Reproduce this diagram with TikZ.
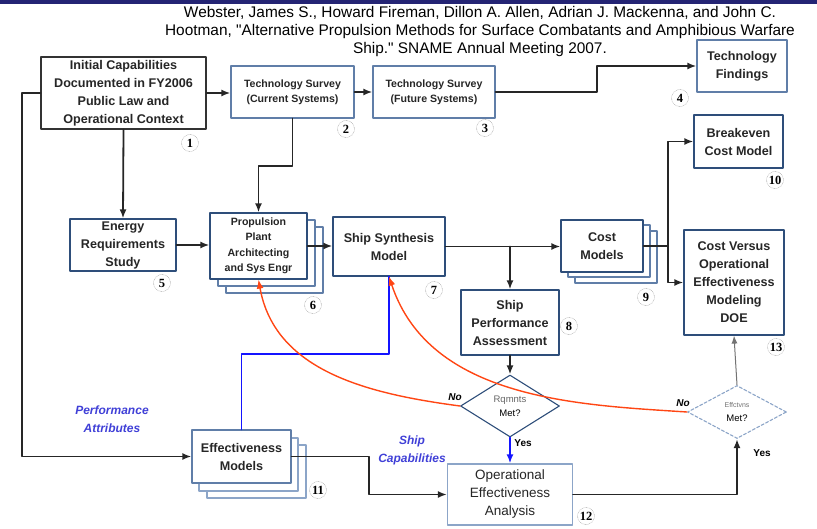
\documentclass[tikz,border=0pt]{standalone}
\usepackage{fontspec}
\setmainfont{Liberation Sans}
\newfontfamily\citefont{Liberation Sans}
\newfontfamily\numfont{Liberation Serif}
\usetikzlibrary{shapes.geometric,shadows,arrows.meta}

\definecolor{boxblue}{RGB}{46,78,122}
\definecolor{lightblue}{RGB}{96,126,168}
\definecolor{paleblue}{RGB}{140,165,200}
\definecolor{navybar}{RGB}{36,36,116}
\definecolor{attrblue}{RGB}{64,64,215}
\definecolor{loopred}{RGB}{255,70,20}
\definecolor{linkblue}{RGB}{20,20,255}

\begin{document}
\begin{tikzpicture}[>={Latex[length=9pt,width=7pt]}, line cap=round, line join=round, x=1pt, y=-1pt]

% --- Global TikZ Styles for Consistency ---
\tikzset{
    procbox/.style={
        draw=boxblue,
        line width=1.2pt,
        fill=white,
        text=black!85,
        align=center,
        inner sep=1pt,
        font=\fontsize{12.6}{18}\selectfont\bfseries
    },
    smallbox/.style={
        procbox,
        draw=lightblue,
        font=\fontsize{10.6}{15}\selectfont\bfseries
    },
    stackbox/.style n args={5}{
        procbox,
        copy shadow={shadow xshift=#3, shadow yshift=#4, draw=#5, line width=1.2pt},
        copy shadow={shadow xshift=#1, shadow yshift=#2, draw=#5, line width=1.2pt}
    },
    decision/.style={
        diamond,
        draw=boxblue,
        line width=1.1pt,
        fill=white,
        align=center,
        inner sep=0pt,
        font=\fontsize{9.5}{14}\selectfont
    },
    flow/.style={
        ->,
        line width=1.8pt,
        draw=black!85
    },
    flowline/.style={
        line width=1.8pt,
        draw=black!85
    },
    loopback/.style={
        ->,
        line width=1.4pt,
        draw=loopred
    },
    bluelink/.style={
        line width=1.8pt,
        draw=linkblue
    },
    stepnum/.style={
        circle,
        draw=black!45,
        densely dotted,
        thin,
        inner sep=0pt,
        minimum size=17pt,
        font=\numfont\fontsize{12.5}{12}\selectfont\bfseries
    },
    answer/.style={
        font=\fontsize{10}{12}\selectfont\bfseries\itshape
    },
    attrlabel/.style={
        text=attrblue,
        align=center,
        font=\fontsize{12}{18}\selectfont\bfseries\itshape
    }
}

\useasboundingbox (0,0) rectangle (817,529);
\fill[navybar] (0,0) rectangle (817,4);

% --- Reference ---
\node[font=\citefont\fontsize{15.4}{18}\selectfont, align=center] (cite) at (480,32)
    {Webster, James S., Howard Fireman, Dillon A. Allen, Adrian J. Mackenna, and John C.\\
     Hootman, "Alternative Propulsion Methods for Surface Combatants and Amphibious Warfare\\
     Ship." SNAME Annual Meeting 2007.};

% =========================================================================
% --- Upper row: capabilities and technology surveys ---
% =========================================================================
\node[procbox, draw=black!80, minimum width=165pt, minimum height=72pt] (init) at (123.5,93)
    {Initial Capabilities\\Documented in FY2006\\Public Law and\\Operational Context};
\node[smallbox, minimum width=123pt, minimum height=52pt] (survcur) at (292.5,92)
    {Technology Survey\\(Current Systems)};
\node[smallbox, minimum width=122pt, minimum height=52pt] (survfut) at (434,92)
    {Technology Survey\\(Future Systems)};
\node[procbox, draw=lightblue, minimum width=90pt, minimum height=52pt] (findings) at (742,66)
    {Technology\\Findings};
\node[procbox, minimum width=89pt, minimum height=53pt] (breakeven) at (738.5,141.5)
    {Breakeven\\Cost Model};

% =========================================================================
% --- Middle row: synthesis and cost ---
% =========================================================================
\node[procbox, minimum width=106pt, minimum height=52pt] (energy) at (123,245)
    {Energy\\Requirements\\Study};
\node[stackbox={8pt}{-7pt}{16pt}{-14pt}{lightblue}, font=\fontsize{10.6}{15.5}\selectfont\bfseries,
      minimum width=97pt, minimum height=66pt] (prop) at (258.5,246)
    {Propulsion\\Plant\\Architecting\\and Sys Engr};
\node[procbox, minimum width=112pt, minimum height=59pt] (synth) at (389,246.5)
    {Ship Synthesis\\Model};
\node[stackbox={7pt}{-5pt}{14pt}{-11pt}{lightblue}, minimum width=82pt, minimum height=52pt] (cost) at (602,246)
    {Cost\\Models};
\node[procbox, minimum width=100pt, minimum height=105pt] (costvs) at (734,282.5)
    {Cost Versus\\Operational\\Effectiveness\\Modeling\\DOE};
\node[procbox, minimum width=98pt, minimum height=65pt] (perf) at (510,322.5)
    {Ship\\Performance\\Assessment};

% =========================================================================
% --- Lower row: decisions and effectiveness ---
% =========================================================================
\node[decision, minimum width=99pt, minimum height=62pt] (rq) at (510,406)
    {\textcolor{black!60}{Rqmnts}\\Met?};
\node[decision, draw=paleblue, densely dashed, minimum width=99pt, minimum height=53pt] (ef) at (737,412)
    {\textcolor{black!55}{\fontsize{7}{9}\selectfont Effctvns}\\Met?};
\node[procbox, draw=paleblue, font=\fontsize{13.5}{18}\selectfont, minimum width=125pt, minimum height=61pt] (opeff) at (510,494.5)
    {Operational\\Effectiveness\\Analysis};
\node[stackbox={7pt}{-8pt}{15pt}{-15pt}{paleblue}, draw=lightblue, minimum width=99pt, minimum height=53pt] (effmod) at (241.5,456.5)
    {Effectiveness\\Models};

% --- Step numbers ---
\node[stepnum] (n1) at (190,143) {1};
\node[stepnum] (n2) at (346,129) {2};
\node[stepnum] (n3) at (485,128) {3};
\node[stepnum] (n4) at (680,98) {4};
\node[stepnum] (n5) at (162,283) {5};
\node[stepnum] (n6) at (313,305) {6};
\node[stepnum] (n7) at (434,290) {7};
\node[stepnum] (n8) at (569,326) {8};
\node[stepnum] (n9) at (646,297) {9};
\node[stepnum] (n10) at (775,180) {10};
\node[stepnum] (n11) at (318,490) {11};
\node[stepnum] (n12) at (586,516) {12};
\node[stepnum] (n13) at (776,347) {13};

% --- Labels ---
\node[answer] (no1) at (455,397) {No};
\node[answer] (no2) at (683,403) {No};
\node[font=\fontsize{10}{12}\selectfont\bfseries] (yes1) at (523,443) {Yes};
\node[font=\fontsize{10}{12}\selectfont\bfseries] (yes2) at (762,453) {Yes};
\node[attrlabel] (perfattr) at (112,419.5) {Performance\\Attributes};
\node[attrlabel] (shipcap) at (412,450) {Ship\\Capabilities};

% --- Junctions ---
\coordinate (jfind) at (597,80);
\coordinate (jprop) at (276,166);
\coordinate (jleft) at (22,300);
\coordinate (jperf) at (synth.east -| perf.north);
\coordinate (jcost) at (668,246);
\coordinate (jeff) at (369,475);
\coordinate (jblue) at (300,354);

% --- Connectors ---
\draw[flow] (init.east) -- (init.east -| survcur.west);
\draw[flow] (survcur.east) -- (survfut.west);
\draw[flow] (survfut.east) -| (jfind) |- (findings.west);
\draw[flow] (survcur.south) |- (jprop) -| (prop.north);
\draw[flow] (init.south) -- (energy.north);
\draw[flow] (init.west) -| (jleft) |- (effmod.west);
\draw[flow] (energy.east) -- (energy.east -| prop.west);
\draw[flow] (prop.east) -- (prop.east -| synth.west);
\draw[flow] (synth.east) -- (synth.east -| cost.west);
\draw[flow] (jperf) -- (perf.north);
\draw[flowline] (cost.east) -- (jcost);
\draw[flow] (jcost) |- (breakeven.west);
\draw[flow] (jcost) |- (costvs.west);
\draw[flow] (perf.south) -- (rq.north);
\draw[flow, draw=linkblue, line width=2pt] (rq.south) -- (opeff.north);
\draw[flow] (effmod.east) -| (jeff) |- (opeff.west);
\draw[flow] (opeff.east) -| (ef.south);
\draw[-{Latex[length=8pt,width=6pt]}, line width=1pt, draw=black!55] (ef.north) -- (costvs.south);

% --- Feedback loops ---
\draw[bluelink] (effmod.north) |- (jblue) -| (synth.south);
\draw[loopback] (rq.west) .. controls (370,394) and (275,372) .. (prop.south);
\draw[loopback] (ef.west) .. controls (580,405) and (430,400) .. (synth.south);

\end{tikzpicture}
\end{document}
